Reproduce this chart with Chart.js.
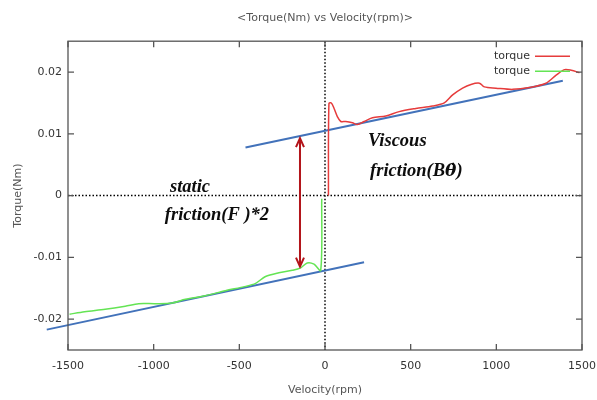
<!DOCTYPE html>
<html>
<head>
<meta charset="utf-8">
<script src="https://cdn.jsdelivr.net/npm/chart.js@4.4.0/dist/chart.umd.min.js"></script>
<style>
    html, body { margin: 0; padding: 0; background: #fff; }
</style>
</head>
<body>
<canvas id="myChart" width="597" height="400"></canvas>
<script>
// measured torque, positive velocity (red)
const redVelocity = [20, 23, 37, 53, 72, 92, 121, 160, 189, 228, 277, 355, 433, 530, 628, 696, 745, 803, 852, 901, 930, 998, 1095, 1193, 1290, 1349, 1398, 1437, 1485]
const redTorque = [0, 0.0149, 0.0150, 0.0141, 0.0128, 0.0120, 0.0120, 0.0118, 0.0115, 0.0120, 0.0126, 0.0129, 0.0136, 0.0141, 0.0145, 0.0150, 0.0163, 0.0174, 0.0180, 0.0182, 0.0176, 0.0174, 0.0172, 0.0175, 0.0182, 0.0195, 0.0204, 0.0203, 0.0199]

// measured torque, negative velocity (green)
const greenVelocity = [-1491, -1403, -1283, -1166, -1088, -990, -893, -815, -698, -581, -464, -405, -347, -269, -191, -142, -104, -64, -25, -19]
const greenTorque = [-0.0192, -0.0188, -0.0184, -0.0179, -0.0175, -0.0175, -0.0174, -0.0168, -0.0162, -0.0154, -0.0147, -0.0142, -0.0131, -0.0125, -0.0121, -0.0117, -0.0109, -0.0111, -0.0121, -0.0005]

// fitted viscous friction lines (blue)
const fitPosVelocity = [-464, 1388]
const fitPosTorque = [0.0078, 0.0186]
const fitNegVelocity = [-1624, 228]
const fitNegTorque = [-0.0217, -0.0108]

// static friction arrow (velocity, top torque, bottom torque)
const arrowVelocity = -146
const arrowTorque = [0.0093, -0.0115]

const xTicks = [-1500, -1000, -500, 0, 500, 1000, 1500]
const yTicks = [-0.02, -0.01, 0, 0.01, 0.02]

// annotation texts, split where the theta-dot needs a font with proper accent placement
const labels = [
    { parts: ['Viscous'], x: 251, y: 0.0081 },
    { parts: ['friction(B', '\u03B8\u0307', ')'], x: 263, y: 0.0032 },
    { parts: ['static'], x: -905, y: 0.0006 },
    { parts: ['friction(F )*2'], x: -935, y: -0.0040 },
]

const toPoints = (xs, ys) => xs.map((x, i) => ({ x: x, y: ys[i] }))

Chart.defaults.font.family = "'DejaVu Sans', sans-serif"
Chart.defaults.font.size = 11
Chart.defaults.color = '#444'

const serifFont = "italic bold 18.5px 'Liberation Serif', serif"
const thetaFont = "italic bold 17px 'DejaVu Serif', serif"

const overlay = {
    id: 'overlay',
    beforeDatasetsDraw(chart) {
        const { ctx, chartArea: a, scales: { x, y } } = chart
        ctx.save()
        ctx.strokeStyle = '#000'
        ctx.lineWidth = 1.5
        ctx.setLineDash([1.5, 2])
        const x0 = x.getPixelForValue(0)
        const y0 = y.getPixelForValue(0)
        ctx.beginPath()
        ctx.moveTo(x0, a.top)
        ctx.lineTo(x0, a.bottom)
        ctx.moveTo(a.left, y0)
        ctx.lineTo(a.right, y0)
        ctx.stroke()
        ctx.restore()
    },
    afterDatasetsDraw(chart) {
        const { ctx, chartArea: a, scales: { x, y } } = chart
        ctx.save()

        // frame with inward ticks on all sides
        ctx.strokeStyle = '#555'
        ctx.lineWidth = 1.3
        ctx.strokeRect(a.left, a.top, a.right - a.left, a.bottom - a.top)
        ctx.beginPath()
        xTicks.forEach(v => {
            const px = x.getPixelForValue(v)
            ctx.moveTo(px, a.bottom); ctx.lineTo(px, a.bottom - 6)
            ctx.moveTo(px, a.top); ctx.lineTo(px, a.top + 6)
        })
        yTicks.forEach(v => {
            const py = y.getPixelForValue(v)
            ctx.moveTo(a.left, py); ctx.lineTo(a.left + 6, py)
            ctx.moveTo(a.right, py); ctx.lineTo(a.right - 6, py)
        })
        ctx.stroke()

        // static friction arrow
        const ax = x.getPixelForValue(arrowVelocity)
        const at = y.getPixelForValue(arrowTorque[0])
        const ab = y.getPixelForValue(arrowTorque[1])
        ctx.strokeStyle = '#b3141a'
        ctx.lineWidth = 2
        ctx.beginPath()
        ctx.moveTo(ax, at + 1); ctx.lineTo(ax, ab - 1)
        ctx.moveTo(ax - 4, at + 9); ctx.lineTo(ax, at); ctx.lineTo(ax + 4, at + 9)
        ctx.moveTo(ax - 4, ab - 9); ctx.lineTo(ax, ab); ctx.lineTo(ax + 4, ab - 9)
        ctx.stroke()

        // annotations
        ctx.fillStyle = '#0d0d0d'
        ctx.textAlign = 'left'
        ctx.textBaseline = 'alphabetic'
        labels.forEach(l => {
            let px = x.getPixelForValue(l.x)
            const py = y.getPixelForValue(l.y)
            l.parts.forEach(p => {
                ctx.font = p.startsWith('\u03B8') ? thetaFont : serifFont
                ctx.fillText(p, px, py)
                px += ctx.measureText(p).width
            })
        })

        // legend in the top right corner
        ctx.font = "11px 'DejaVu Sans', sans-serif"
        ctx.textAlign = 'right'
        ctx.textBaseline = 'middle'
        chart.data.datasets.slice(0, 2).forEach((ds, i) => {
            const ly = a.top + 15 + i * 15
            ctx.fillStyle = '#333'
            ctx.fillText(ds.label, a.right - 52, ly)
            ctx.strokeStyle = ds.borderColor
            ctx.lineWidth = 1.5
            ctx.beginPath()
            ctx.moveTo(a.right - 47, ly)
            ctx.lineTo(a.right - 12, ly)
            ctx.stroke()
        })
        ctx.restore()
    }
}

const ctx = document.getElementById('myChart')

const myChart = new Chart(ctx, {
    type: 'scatter',
    plugins: [overlay],
    data: {
        datasets: [
            {
                label: 'torque',
                data: toPoints(redVelocity, redTorque),
                showLine: true,
                borderColor: 'rgb(230, 60, 60)',
                borderWidth: 1.5,
                pointRadius: 0,
                tension: 0.3,
            },
            {
                label: 'torque',
                data: toPoints(greenVelocity, greenTorque),
                showLine: true,
                borderColor: 'rgb(100, 228, 84)',
                borderWidth: 1.5,
                pointRadius: 0,
                tension: 0.3,
            },
            {
                label: 'fit+',
                data: toPoints(fitPosVelocity, fitPosTorque),
                showLine: true,
                borderColor: 'rgb(66, 114, 186)',
                borderWidth: 2,
                pointRadius: 0,
            },
            {
                label: 'fit-',
                data: toPoints(fitNegVelocity, fitNegTorque),
                showLine: true,
                borderColor: 'rgb(66, 114, 186)',
                borderWidth: 2,
                pointRadius: 0,
                clip: false,
            },
        ]
    },
    options: {
        responsive: false,
        animation: false,
        layout: {
            padding: { left: 8, right: 15, top: 0, bottom: 0 }
        },
        plugins: {
            legend: { display: false },
            tooltip: { enabled: false },
            title: {
                display: true,
                text: '<Torque(Nm) vs Velocity(rpm)>',
                color: '#555',
                fullSize: false,
                font: { size: 11, weight: 'normal' },
                padding: { top: 12, bottom: 16 }
            }
        },
        scales: {
            x: {
                type: 'linear',
                min: -1500,
                max: 1500,
                afterBuildTicks: scale => { scale.ticks = xTicks.map(v => ({ value: v })) },
                afterFit: scale => { scale.height = 50; scale.paddingLeft = 0; scale.paddingRight = 0 },
                ticks: { padding: 10, color: '#333', maxRotation: 0, callback: v => String(v) },
                grid: { display: false, drawTicks: false },
                border: { display: false },
                title: {
                    display: true,
                    text: 'Velocity(rpm)',
                    color: '#555',
                    padding: { top: 0, bottom: 3 }
                }
            },
            y: {
                min: -0.025,
                max: 0.025,
                afterBuildTicks: scale => { scale.ticks = yTicks.map(v => ({ value: v })) },
                afterFit: scale => { scale.width = 60 },
                ticks: { padding: 6, color: '#333', callback: v => String(+v.toFixed(2)) },
                grid: { display: false, drawTicks: false },
                border: { display: false },
                title: {
                    display: true,
                    text: 'Torque(Nm)',
                    color: '#555',
                    padding: { top: 4, bottom: 0 }
                }
            }
        }
    }
})
</script>
</body>
</html>
